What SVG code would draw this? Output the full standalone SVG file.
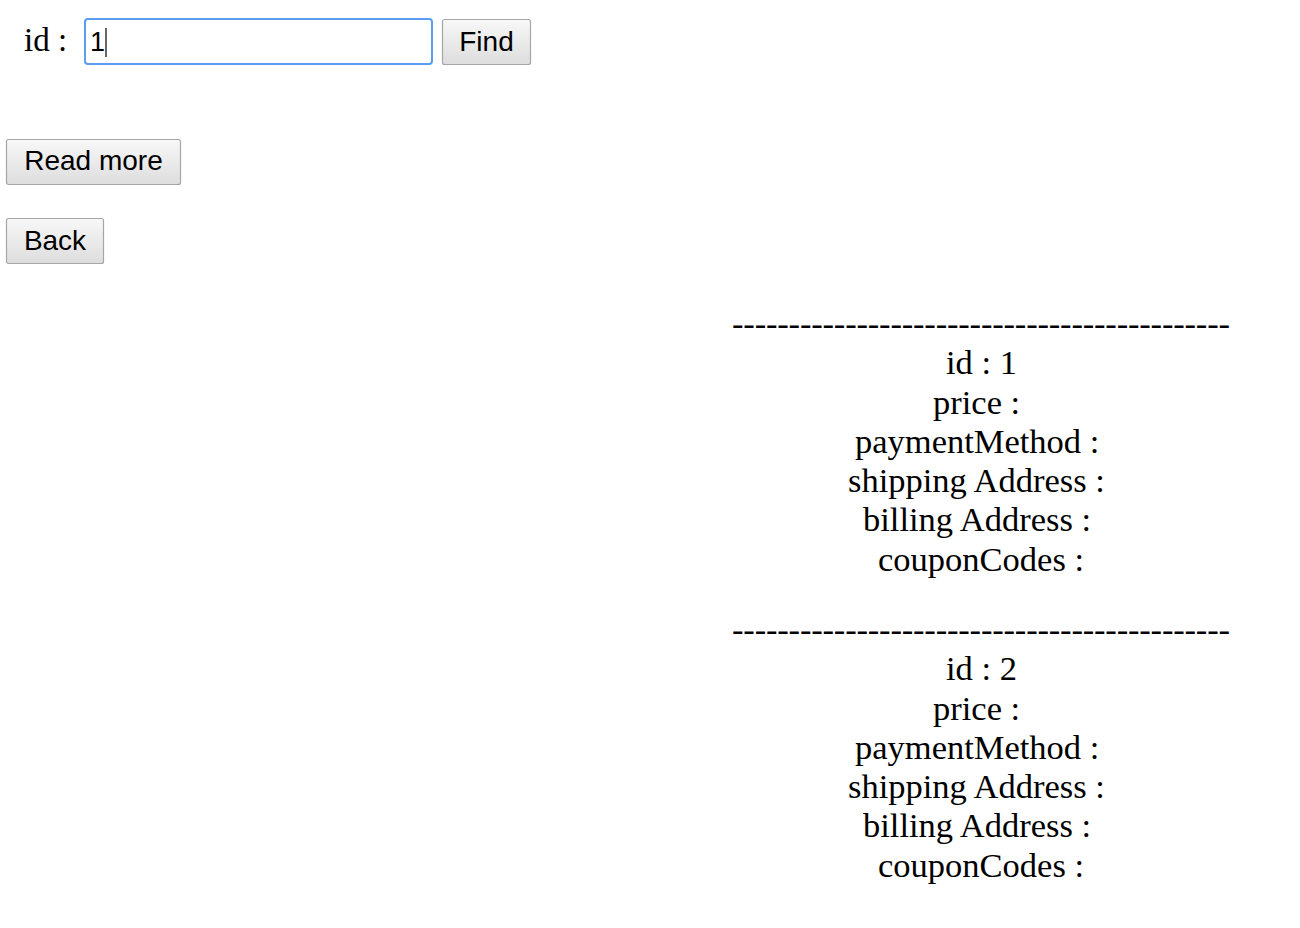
<svg xmlns="http://www.w3.org/2000/svg" width="1300" height="928" viewBox="0 0 1300 928">
<defs>
<linearGradient id="btnGrad" x1="0" y1="0" x2="0" y2="1">
<stop offset="0" stop-color="#f8f8f8"/>
<stop offset="1" stop-color="#dddddd"/>
</linearGradient>
<style>
.serif{font-family:"Liberation Serif","Times New Roman",serif;font-size:34.5px;fill:#000}
.sans{font-family:"Liberation Sans",Arial,sans-serif;font-size:28px;fill:#000}
.btn{fill:url(#btnGrad);stroke:#a6a6a6;stroke-width:1.2}
</style>
</defs>
<rect width="1300" height="928" fill="#ffffff"/>
<g id="search-form">
<text class="serif" x="24" y="51" style="font-size:33px">id :</text>
<rect x="85" y="19" width="347" height="45" rx="3" fill="#ffffff" stroke="#5b9cf5" stroke-width="2"/>
<text class="sans" x="90" y="51" style="font-size:27px">1</text>
<line x1="106" y1="28" x2="106" y2="57" stroke="#000" stroke-width="1.2"/>
</g>
<g id="find-button">
<rect class="btn" x="442.5" y="19.5" width="88" height="45" rx="2"/>
<text class="sans" x="486.5" y="51" text-anchor="middle">Find</text>
</g>
<g id="readmore-button">
<rect class="btn" x="6.5" y="139.5" width="174" height="45" rx="2"/>
<text class="sans" x="93.5" y="170" text-anchor="middle">Read more</text>
</g>
<g id="back-button">
<rect class="btn" x="6.5" y="218.5" width="97" height="45" rx="2"/>
<text class="sans" x="55" y="250" text-anchor="middle">Back</text>
</g>
<g id="record-1">
<text class="serif" x="732" y="335" textLength="498">--------------------------------------------</text>
<text class="serif" x="946" y="374">id : 1</text>
<text class="serif" x="933" y="413.5">price :</text>
<text class="serif" x="855" y="452.7">paymentMethod :</text>
<text class="serif" x="848" y="492">shipping Address :</text>
<text class="serif" x="863" y="531.3">billing Address :</text>
<text class="serif" x="878" y="570.7">couponCodes :</text>
</g>
<g id="record-2">
<text class="serif" x="732" y="641" textLength="498">--------------------------------------------</text>
<text class="serif" x="946" y="680">id : 2</text>
<text class="serif" x="933" y="719.5">price :</text>
<text class="serif" x="855" y="758.7">paymentMethod :</text>
<text class="serif" x="848" y="798">shipping Address :</text>
<text class="serif" x="863" y="837.3">billing Address :</text>
<text class="serif" x="878" y="876.7">couponCodes :</text>
</g>
<g id="connectors"></g>
</svg>
